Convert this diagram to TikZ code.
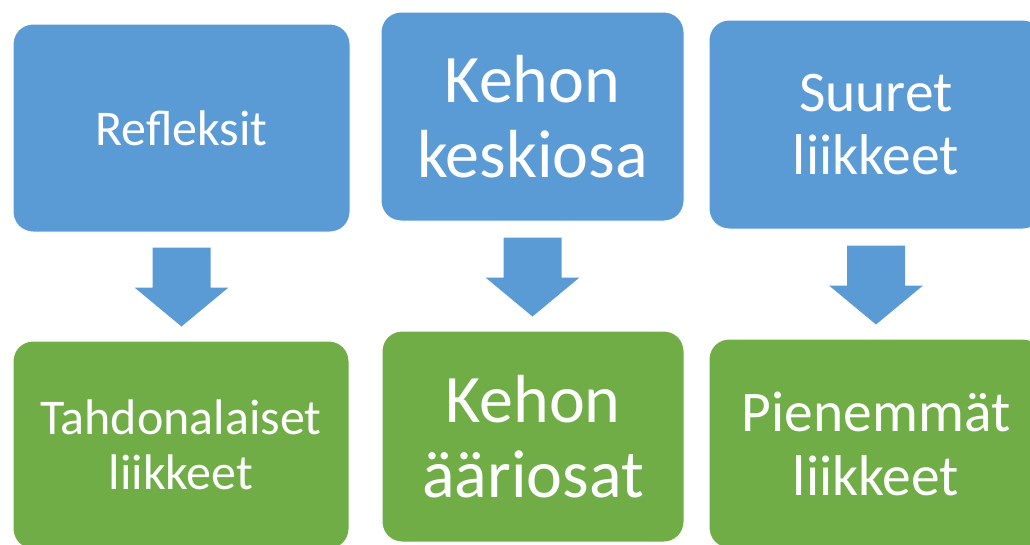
\documentclass[tikz,border=0pt]{standalone}
\usepackage{fontspec}
\setmainfont{Carlito}
\usetikzlibrary{calc}

\tikzset{
  bluebox/.style={rounded corners=20, fill={rgb, 255:red, 91; green, 155; blue, 213 }, draw=white, line width=1pt, text=white, align=center, inner sep=0pt},
  greenbox/.style={rounded corners=20, fill={rgb, 255:red, 112; green, 173; blue, 71 }, draw=white, line width=1pt, text=white, align=center, inner sep=0pt},
  downarrow/.style={fill={rgb, 255:red, 91; green, 155; blue, 213 }},
}

\begin{document}
\begin{tikzpicture}[x=1pt,y=1pt,yscale=-1,xscale=1]
    \useasboundingbox (0,0) rectangle (1030,544);
    \clip (0,0) rectangle (1030,544);

    %Rounded Rect: top row
    \node [bluebox, minimum width=337pt, minimum height=208pt, font=\fontsize{50}{58}\selectfont] (refl) at (181.5,128) {Refleksit};
    \node [bluebox, minimum width=303pt, minimum height=209pt, font=\fontsize{68}{75}\selectfont] (keski) at (532.5,116.5) {Kehon\\keskiosa};
    \node [bluebox, minimum width=334pt, minimum height=209pt, font=\fontsize{57.5}{63}\selectfont] (suuret) at (876,124.5) {Suuret\\liikkeet};

    %Rounded Rect: bottom row
    \node [greenbox, minimum width=336pt, minimum height=208pt, font=\fontsize{50}{55}\selectfont] (tahd) at (181,445) {Tahdonalaiset\\liikkeet};
    \node [greenbox, minimum width=302pt, minimum height=211pt, font=\fontsize{68}{75}\selectfont] (aari) at (533,436.5) {Kehon\\ääriosat};
    \node [greenbox, minimum width=334pt, minimum height=209pt, font=\fontsize{57.5}{64}\selectfont] (pien) at (876,443.5) {Pienemmät\\liikkeet};

    %Shape: Down Arrow
    \fill [downarrow] ($(refl.south)+(-29,15)$) -- ($(refl.south)+(29,15)$) -- ($(refl.south)+(29,55)$) -- ($(refl.south)+(47,55)$) -- ($(refl.south)+(0,94)$) -- ($(refl.south)+(-47,55)$) -- ($(refl.south)+(-29,55)$) -- cycle ;
    %Shape: Down Arrow
    \fill [downarrow] ($(keski.south)+(-29,16)$) -- ($(keski.south)+(29,16)$) -- ($(keski.south)+(29,56)$) -- ($(keski.south)+(47,56)$) -- ($(keski.south)+(0,95)$) -- ($(keski.south)+(-47,56)$) -- ($(keski.south)+(-29,56)$) -- cycle ;
    %Shape: Down Arrow
    \fill [downarrow] ($(suuret.south)+(-29,16)$) -- ($(suuret.south)+(29,16)$) -- ($(suuret.south)+(29,56)$) -- ($(suuret.south)+(47,56)$) -- ($(suuret.south)+(0,95)$) -- ($(suuret.south)+(-47,56)$) -- ($(suuret.south)+(-29,56)$) -- cycle ;

\end{tikzpicture}
\end{document}
